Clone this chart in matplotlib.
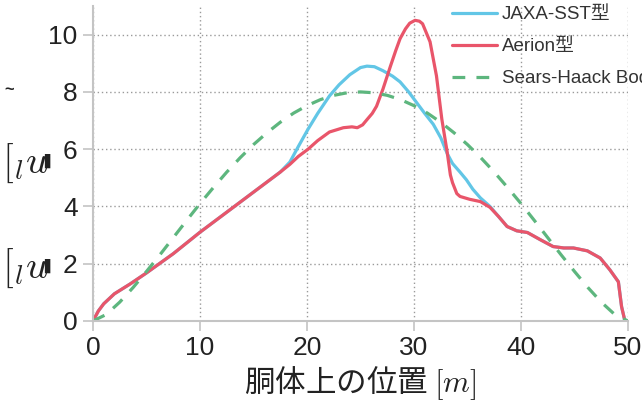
import matplotlib
matplotlib.use("Agg")
import matplotlib.pyplot as plt

plt.rcParams['font.family'] = ['Liberation Sans', 'Noto Sans CJK JP', 'DejaVu Sans']
plt.rcParams['mathtext.fontset'] = 'cm'

# ---- data ----
jaxa_x = [0, 0.5, 1, 2, 3.5, 5, 7.5, 10, 12.5, 15, 17.5,
          18.4, 19.2, 20.1, 21, 22.1, 23, 24, 25, 25.6, 26.3, 27.1, 28, 28.7,
          29.5, 30.3, 31, 31.8, 32.5, 33.1, 33.6, 34.3, 34.9, 35.5, 36.2, 37.1,
          37.9, 38.7, 39.6, 40.6, 41.8, 43.0, 44.0, 44.9, 46.2, 47.4, 48.3, 49.1, 49.4, 49.7]
jaxa_y = [0, 0.35, 0.6, 0.95, 1.3, 1.68, 2.35, 3.1, 3.8, 4.5, 5.2,
          5.55, 6.1, 6.7, 7.25, 7.86, 8.25, 8.6, 8.85, 8.9, 8.88, 8.74, 8.55, 8.35,
          8.0, 7.6, 7.25, 6.87, 6.4, 5.85, 5.5, 5.2, 4.93, 4.6, 4.3, 4.0,
          3.65, 3.3, 3.15, 3.09, 2.84, 2.6, 2.55, 2.55, 2.45, 2.2, 1.79, 1.37, 0.5, 0.02]

aerion_x = [0, 0.5, 1, 2, 3.5, 5, 7.5, 10, 12.5, 15, 17.5,
            18.4, 19.2, 20.1, 21, 22.1, 23.4, 24.2, 24.7, 25.2, 25.6, 26.1, 26.5,
            27.1, 27.8, 28.3, 28.7, 29.2, 29.6, 30.1, 30.5, 30.8, 31.5, 32.1, 32.6,
            33.1, 33.4, 33.6, 34.0, 34.3, 35.2, 36.2, 37.1,
            37.9, 38.7, 39.6, 40.6, 41.8, 43.0, 44.0, 44.9, 46.2, 47.4, 48.3, 49.1, 49.4, 49.7]
aerion_y = [0, 0.35, 0.6, 0.95, 1.3, 1.68, 2.35, 3.1, 3.8, 4.5, 5.2,
            5.47, 5.75, 6.0, 6.3, 6.6, 6.75, 6.78, 6.75, 6.85, 7.03, 7.25, 7.5,
            8.1, 8.9, 9.45, 9.86, 10.2, 10.4, 10.5, 10.47, 10.38, 9.75, 8.56, 7.05,
            5.9, 5.1, 4.83, 4.45, 4.35, 4.25, 4.17, 3.97,
            3.65, 3.3, 3.15, 3.09, 2.84, 2.6, 2.55, 2.55, 2.45, 2.2, 1.79, 1.37, 0.5, 0.02]

sh_x = [0, 1.25, 2.5, 3.75, 5, 6.25, 7.5, 8.75, 10, 11.25, 12.5, 13.75, 15, 16.25, 17.5,
        18.75, 20, 21.25, 22.5, 23.75, 25, 26.25, 27.5, 28.75, 30, 31.25, 32.5, 33.75,
        35, 36.25, 37.5, 38.75, 40, 41.25, 42.5, 43.75, 45, 46.25, 47.5, 48.75, 50]
sh_y = [0, 0.23, 0.66, 1.17, 1.73, 2.31, 2.91, 3.51, 4.10, 4.66, 5.20, 5.70, 6.16, 6.57,
        6.94, 7.26, 7.52, 7.73, 7.88, 7.97, 8.0, 7.97, 7.88, 7.73, 7.52, 7.26, 6.94, 6.57,
        6.16, 5.70, 5.20, 4.66, 4.10, 3.51, 2.91, 2.31, 1.73, 1.17, 0.66, 0.23, 0]

labels = ['JAXA-SST型', 'Aerion型', 'Sears-Haack Body']
x_ticks = [0, 10, 20, 30, 40, 50]
y_ticks = [0, 2, 4, 6, 8, 10]
xlabel = '胴体上の位置 $[m]$'

# ---- figure ----
W, H = 642, 408
fig = plt.figure(figsize=(W / 100, H / 100), dpi=100)
ax = fig.add_axes([93 / W, 1 - 321 / H, (628 - 93) / W, (321 - 6) / H])

ax.plot(jaxa_x, jaxa_y, color='#62C6E6', lw=2.3, label=labels[0], solid_capstyle='round')
ax.plot(aerion_x, aerion_y, color='#E9556A', lw=2.3, label=labels[1], solid_capstyle='round')
ax.plot(sh_x, sh_y, color='#5DB67E', lw=2.3, ls=(0, (4, 3.5)), label=labels[2])

ax.set_xlim(0, 50)
ax.set_ylim(0, 11)
ax.set_xticks(x_ticks)
ax.set_yticks(y_ticks)
ax.grid(True, color='#9a9a9a', ls=(0, (1, 2)), lw=1.0)
for s in ['top', 'right']:
    ax.spines[s].set_visible(False)
for s in ['left', 'bottom']:
    ax.spines[s].set_color('#c4c4c4')
    ax.spines[s].set_linewidth(1.5)
ax.tick_params(axis='both', length=7, width=1.2, color='#c4c4c4',
               labelsize=19, labelcolor='#222222', pad=4)
ax.set_xlabel(xlabel, fontsize=22, color='#222222', labelpad=3,
              family=['Noto Sans CJK JP', 'DejaVu Sans'])

leg = ax.legend(loc='upper left', bbox_to_anchor=(452 / W, 1 - 6 / H),
                bbox_transform=fig.transFigure, frameon=False, fontsize=13.5,
                borderpad=0, borderaxespad=0, handlelength=2.4, handletextpad=0.25,
                labelspacing=0.8)
for t in leg.get_texts():
    t.set_color('#333333')
    t.set_family(['Liberation Sans', 'Noto Sans CJK JP'])

# remnants of a cut-off axis label at the left edge
for yc in (163, 268):
    fig.text(2 / W, 1 - yc / H, r'$[_{l}u$', fontsize=28, color='#222222',
             va='center', ha='left')
    fig.text(44 / W, 1 - (yc - 2) / H, '▌', fontsize=10, color='#222222',
             va='center', ha='left', family='DejaVu Sans')
fig.text(4 / W, 1 - 90 / H, '~', fontsize=12, color='#222222', va='center', ha='left',
         fontweight='bold')

fig.savefig('out.png', dpi=100)
